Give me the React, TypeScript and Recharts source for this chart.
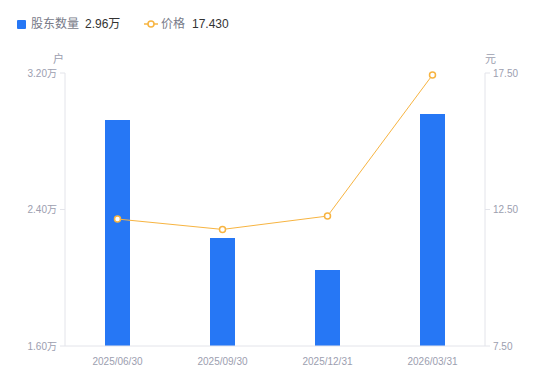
import React from 'react';
import { ComposedChart, Bar, Line, XAxis, YAxis } from 'recharts';

const categories = ['2025/06/30', '2025/09/30', '2025/12/31', '2026/03/31'];
const holders = [2.924, 2.233, 2.045, 2.96];
const prices = [12.15, 11.77, 12.26, 17.43];
const leftTicks = [1.6, 2.4, 3.2];
const rightTicks = [7.5, 12.5, 17.5];

const data = categories.map((c, i) => ({ date: c, holders: holders[i], price: prices[i] }));

const FONT = '"Liberation Sans", "Noto Sans CJK SC", sans-serif';
const tickStyle = { fontSize: 10, fill: '#9c9eaf', fontFamily: FONT };
const axisColor = '#e3e4ea';

export default function App() {
  return (
    <div style={{ position: 'absolute', left: 0, top: 0, width: 550, height: 381, background: '#fff', fontFamily: FONT }}>
      <div style={{ position: 'absolute', left: 17, top: 20, width: 9, height: 9, background: '#2677f5', borderRadius: 1 }} />
      <div style={{ position: 'absolute', left: 31, top: 16, fontSize: 12, color: '#777a88', lineHeight: '16px' }}>股东数量</div>
      <div style={{ position: 'absolute', left: 85, top: 16, fontSize: 12, color: '#333', lineHeight: '16px' }}>2.96万</div>
      <svg style={{ position: 'absolute', left: 144, top: 18 }} width={14} height={12}>
        <line x1={0} y1={6} x2={14} y2={6} stroke="#f7b441" strokeWidth={1.5} />
        <circle cx={7} cy={6} r={3} fill="#fff" stroke="#f7b441" strokeWidth={1.5} />
      </svg>
      <div style={{ position: 'absolute', left: 161, top: 16, fontSize: 12, color: '#777a88', lineHeight: '16px' }}>价格</div>
      <div style={{ position: 'absolute', left: 192, top: 16, fontSize: 12, color: '#333', lineHeight: '16px' }}>17.430</div>
      <div style={{ position: 'absolute', left: 53, top: 50, fontSize: 11, color: '#9c9eaf' }}>户</div>
      <div style={{ position: 'absolute', left: 485, top: 50, fontSize: 11, color: '#9c9eaf' }}>元</div>
      <ComposedChart
        width={550}
        height={381}
        data={data}
        margin={{ top: 73, right: 8, bottom: 10, left: 8 }}
        barCategoryGap={0}
      >
        <XAxis
          dataKey="date"
          tickLine={false}
          axisLine={{ stroke: axisColor }}
          tick={tickStyle}
          tickMargin={6}
          height={25}
        />
        <YAxis
          yAxisId="left"
          orientation="left"
          domain={[1.6, 3.2]}
          ticks={leftTicks}
          width={57}
          tickSize={5}
          tickMargin={3}
          tickLine={{ stroke: axisColor }}
          axisLine={{ stroke: axisColor }}
          tick={tickStyle}
          tickFormatter={(v: number) => `${v.toFixed(2)}万`}
        />
        <YAxis
          yAxisId="right"
          orientation="right"
          domain={[7.5, 17.5]}
          ticks={rightTicks}
          width={57}
          tickSize={5}
          tickMargin={3}
          tickLine={{ stroke: axisColor }}
          axisLine={{ stroke: axisColor }}
          tick={tickStyle}
          tickFormatter={(v: number) => v.toFixed(2)}
        />
        <Bar yAxisId="left" dataKey="holders" fill="#2677f5" barSize={25} isAnimationActive={false} />
        <Line
          yAxisId="right"
          dataKey="price"
          stroke="#f7b441"
          strokeWidth={1}
          dot={{ r: 3, fill: '#fff', stroke: '#f7b441', strokeWidth: 1.5 }}
          activeDot={false}
          isAnimationActive={false}
        />
      </ComposedChart>
    </div>
  );
}
